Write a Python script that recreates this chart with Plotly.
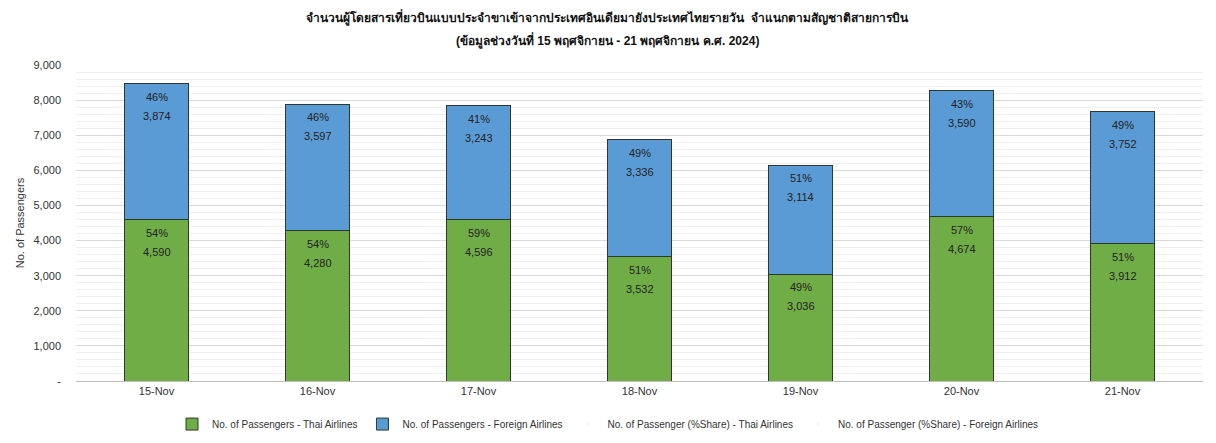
import plotly.graph_objects as go

dates = ["15-Nov", "16-Nov", "17-Nov", "18-Nov", "19-Nov", "20-Nov", "21-Nov"]
thai_pax = [4590, 4280, 4596, 3532, 3036, 4674, 3912]
foreign_pax = [3874, 3597, 3243, 3336, 3114, 3590, 3752]
thai_share = [54, 54, 59, 51, 49, 57, 51]
foreign_share = [46, 46, 41, 49, 51, 43, 49]
y_ticks = [0, 1000, 2000, 3000, 4000, 5000, 6000, 7000, 8000, 9000]
y_ticktext = ["-", "1,000", "2,000", "3,000", "4,000", "5,000", "6,000", "7,000", "8,000", "9,000"]
title_line1 = "จำนวนผู้โดยสารเที่ยวบินแบบประจำขาเข้าจากประเทศอินเดียมายังประเทศไทยรายวัน  จำแนกตามสัญชาติสายการบิน"
title_line2 = "(ข้อมูลช่วงวันที่ 15 พฤศจิกายน - 21 พฤศจิกายน ค.ศ. 2024)"

FONT = "Liberation Sans"
GREEN = "#70AD47"
BLUE = "#5B9BD5"
EDGE = "#2B3A2B"

fig = go.Figure()
fig.add_trace(go.Bar(x=dates, y=thai_pax, name="No. of Passengers - Thai Airlines",
                     marker=dict(color=GREEN, line=dict(color=EDGE, width=1)), width=0.4))
fig.add_trace(go.Bar(x=dates, y=foreign_pax, name="No. of Passengers - Foreign Airlines",
                     marker=dict(color=BLUE, line=dict(color=EDGE, width=1)), width=0.4))
fig.add_trace(go.Scatter(x=dates, y=thai_share, name="No. of Passenger (%Share) - Thai Airlines",
                         mode="markers", marker=dict(size=1, opacity=0),
                         yaxis="y2", showlegend=True, hoverinfo="skip"))
fig.add_trace(go.Scatter(x=dates, y=foreign_share, name="No. of Passenger (%Share) - Foreign Airlines",
                         mode="markers", marker=dict(size=1, opacity=0),
                         yaxis="y2", showlegend=True, hoverinfo="skip"))

lab_font = dict(size=11, color="#222222", family=FONT)
annotations = []
for d, t, f, ts, fs in zip(dates, thai_pax, foreign_pax, thai_share, foreign_share):
    annotations.append(dict(x=d, y=t, text=f"{ts}%", showarrow=False, yshift=-13, font=lab_font))
    annotations.append(dict(x=d, y=t, text=f"{t:,}", showarrow=False, yshift=-32, font=lab_font))
    annotations.append(dict(x=d, y=t + f, text=f"{fs}%", showarrow=False, yshift=-13, font=lab_font))
    annotations.append(dict(x=d, y=t + f, text=f"{f:,}", showarrow=False, yshift=-32, font=lab_font))

title_font = dict(size=12, color="#111111", family=FONT)
annotations.append(dict(xref="paper", yref="paper", x=0.472, y=1, yshift=48, yanchor="middle",
                        showarrow=False, text=f"<b>{title_line1}</b>", font=title_font))
annotations.append(dict(xref="paper", yref="paper", x=0.472, y=1, yshift=25, yanchor="middle",
                        showarrow=False, text=f"<b>{title_line2}</b>", font=title_font))

fig.update_layout(
    barmode="stack",
    width=1216, height=443,
    margin=dict(l=76, r=13, t=65, b=62, autoexpand=False),
    paper_bgcolor="white", plot_bgcolor="white",
    font=dict(family=FONT, size=11, color="#333333"),
    xaxis=dict(showgrid=False, showline=True, linecolor="#BFBFBF", ticks="",
               tickfont=dict(size=11, color="#333333")),
    yaxis=dict(range=[0, 9000], tickvals=y_ticks, ticktext=y_ticktext,
               showgrid=True, gridcolor="#D9D9D9", gridwidth=1, zeroline=False,
               showline=False, ticks="", ticklabelstandoff=14,
               minor=dict(dtick=200, showgrid=True, gridcolor="#EFEFEF", gridwidth=1),
               title=dict(text="No. of Passengers", font=dict(size=11, color="#333333"), standoff=6)),
    yaxis2=dict(overlaying="y", range=[0, 100], visible=False),
    legend=dict(orientation="h", x=0.5, xanchor="center", xref="container",
                yref="container", y=0.01, yanchor="bottom",
                font=dict(size=10, color="#333333"), traceorder="normal",
                itemwidth=30),
    annotations=annotations,
)

fig.write_html("out.html")
